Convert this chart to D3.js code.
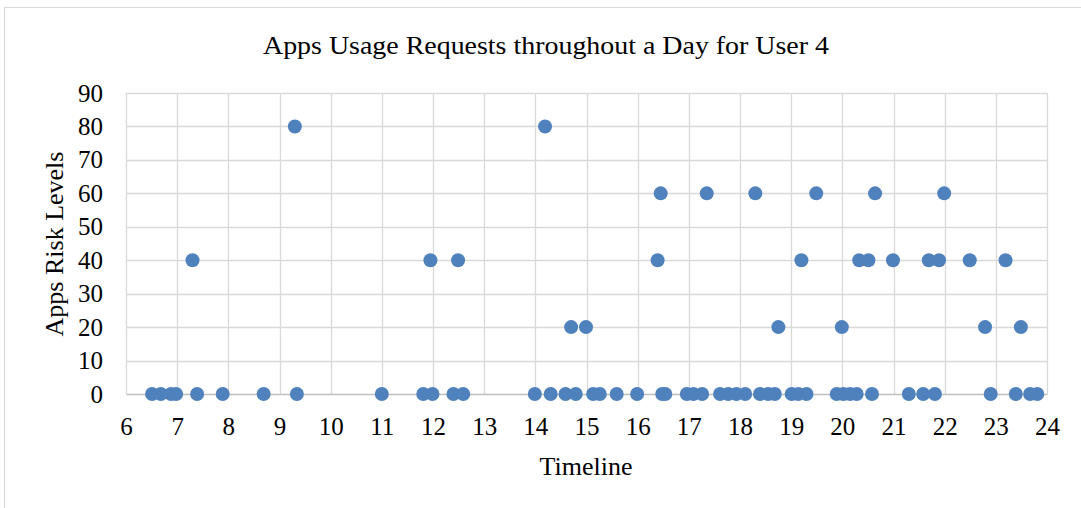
<!DOCTYPE html>
<html>
<head>
<meta charset="utf-8">
<script src="https://cdn.jsdelivr.net/npm/d3@7"></script>
<style>
  body { margin: 0; background: #fff; }
  text { font-family: "Liberation Serif", "Times New Roman", serif; fill: #000; }
</style>
</head>
<body>
<script>
// Hours of day (x) for each request, grouped by risk level (y)
var risk0 = [6.51, 6.68, 6.88, 6.98, 7.39, 7.89, 8.69, 9.34, 11.0, 11.81, 11.99, 12.40, 12.59,
             13.99, 14.30, 14.59, 14.79, 15.13, 15.26, 15.59, 15.99, 16.48, 16.54, 16.96, 17.09,
             17.26, 17.61, 17.77, 17.93, 18.10, 18.39, 18.55, 18.68, 19.01, 19.14, 19.30, 19.89,
             20.02, 20.15, 20.28, 20.58, 21.30, 21.58, 21.81, 22.90, 23.39, 23.67, 23.81];
var risk20 = [14.70, 14.99, 18.75, 19.99, 22.79, 23.49];
var risk40 = [7.30, 11.95, 12.49, 16.39, 19.20, 20.33, 20.51, 20.99, 21.69, 21.89, 22.49, 23.19];
var risk60 = [16.45, 17.35, 18.30, 19.49, 20.64, 21.99];
var risk80 = [9.30, 14.19];

var xTicks = d3.range(6, 25, 1);
var yTicks = d3.range(0, 91, 10);

var points = [];
[[0, risk0], [20, risk20], [40, risk40], [60, risk60], [80, risk80]].forEach(function (g) {
    g[1].forEach(function (t) { points.push({ x: t, y: g[0] }); });
});

var W = 1081, H = 508;
var margin = {top: 93, right: 34, bottom: 114, left: 126},
    width = W - margin.left - margin.right,
    height = H - margin.top - margin.bottom;

var svg = d3.select("body").append("svg")
            .attr("width", W)
            .attr("height", H);

svg.append("rect")
   .attr("x", 4.5).attr("y", 7.5)
   .attr("width", 1100).attr("height", 520)
   .attr("fill", "#fff")
   .attr("stroke", "#d9d9d9");

svg.append("text")
   .attr("x", 546).attr("y", 54)
   .attr("text-anchor", "middle")
   .attr("textLength", 566)
   .attr("lengthAdjust", "spacingAndGlyphs")
   .style("font-size", "26px")
   .text("Apps Usage Requests throughout a Day for User 4");

var g = svg.append("g")
           .attr("transform", "translate(" + margin.left + "," + margin.top + ")");

var x = d3.scaleLinear().domain([6, 24]).range([0, width]);
var y = d3.scaleLinear().domain([0, 90]).range([height, 0]);

// gridlines
g.append("g").selectAll("line").data(xTicks).enter().append("line")
 .attr("x1", d => Math.round(x(d)) + 0.5).attr("x2", d => Math.round(x(d)) + 0.5)
 .attr("y1", 0).attr("y2", height)
 .attr("stroke", "#d9d9d9").attr("stroke-width", 1.3);

g.append("g").selectAll("line").data(yTicks.slice(1)).enter().append("line")
 .attr("x1", 0).attr("x2", width)
 .attr("y1", d => Math.round(y(d)) + 0.5).attr("y2", d => Math.round(y(d)) + 0.5)
 .attr("stroke", "#d9d9d9").attr("stroke-width", 1.3);

// axes
var xAxis = g.append("g")
   .attr("class", "x axis")
   .attr("transform", "translate(0," + height + ")")
   .call(d3.axisBottom(x).tickValues(xTicks).tickSize(0).tickPadding(23));
xAxis.select(".domain").attr("stroke", "#bfbfbf").attr("stroke-width", 1.5);
xAxis.selectAll("text").style("font-size", "25px");

var yAxis = g.append("g")
   .attr("class", "y axis")
   .call(d3.axisLeft(y).tickValues(yTicks).tickSize(0).tickPadding(23));
yAxis.select(".domain").remove();
yAxis.selectAll("text").style("font-size", "25px");

// points
g.append("g").selectAll("circle").data(points).enter().append("circle")
 .attr("cx", d => x(d.x))
 .attr("cy", d => y(d.y))
 .attr("r", 7)
 .attr("fill", "#4f81bd");

// axis titles
svg.append("text")
   .attr("x", 586).attr("y", 475)
   .attr("text-anchor", "middle")
   .style("font-size", "26px")
   .text("Timeline");

svg.append("text")
   .attr("transform", "translate(63,244) rotate(-90)")
   .attr("text-anchor", "middle")
   .style("font-size", "26px")
   .text("Apps Risk Levels");
</script>
</body>
</html>
